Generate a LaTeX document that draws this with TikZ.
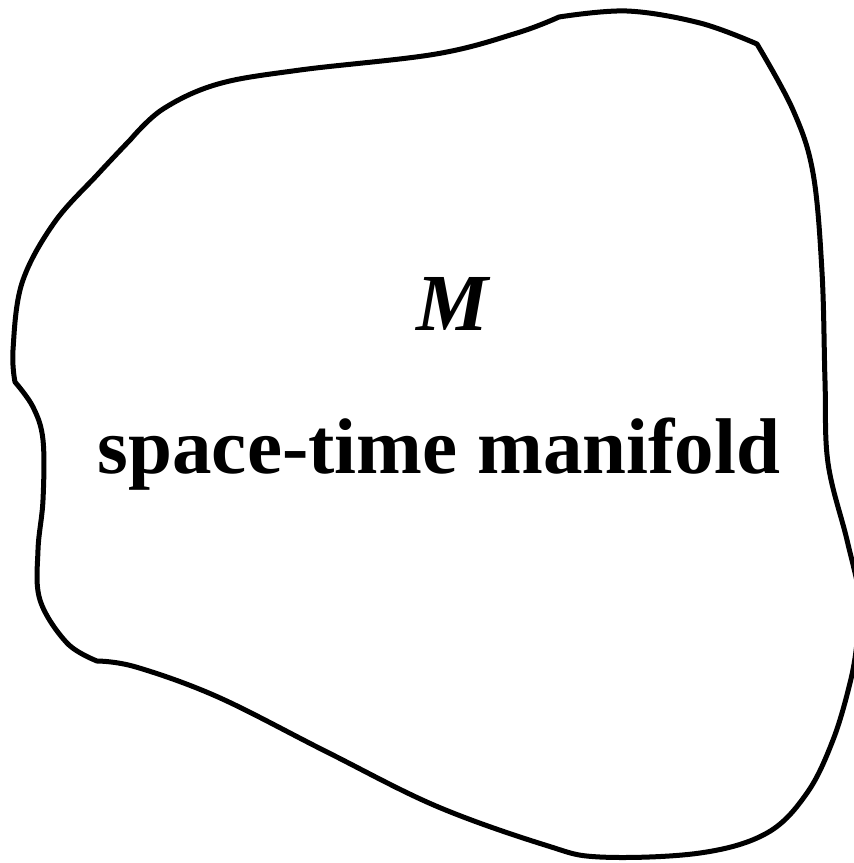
\documentclass[tikz,border=0pt]{standalone}
\usepackage{fontspec}
\setmainfont{Liberation Serif}
\begin{document}
\begin{tikzpicture}[x=1pt, y=-1pt, line width=5pt, line join=round]
        % Rahmen
        \useasboundingbox (0,0) rectangle (854,863);

        % Umriss der Mannigfaltigkeit
        \draw plot[smooth, tension=0.6] coordinates {(559,17) (627,11) (700,23) (757,44)}
        -- plot[smooth, tension=0.6] coordinates {(757,44) (793,110) (813,173) (822,272) (825,381) (828,463) (847,540) (860,600) (857,643) (850,683) (833,740) (807,793) (767,833) (700,853) (600,857) (545,845) (436,806) (327,752) (218,697) (136,667) (97,661)}
        -- plot[smooth, tension=0.6] coordinates {(97,661) (67,643) (40,600) (38,550) (43,500) (43,440) (33,407) (15,382)}
        -- plot[smooth, tension=0.6] coordinates {(15,382) (13,350) (22,283) (54,223) (98,174) (131,139)}
        -- plot[smooth, tension=0.6] coordinates {(131,139) (163,109) (218,84) (300,70) (436,54) (517,33) (559,17)}
        -- cycle;

        % Beschriftung
        \node[anchor=base] (name) at (453,330) {\fontsize{81}{96}\selectfont\bfseries\itshape M};
        \node[anchor=base] (title) at (439,473) {\fontsize{79}{96}\selectfont\bfseries space-time manifold};

\end{tikzpicture}
\end{document}
